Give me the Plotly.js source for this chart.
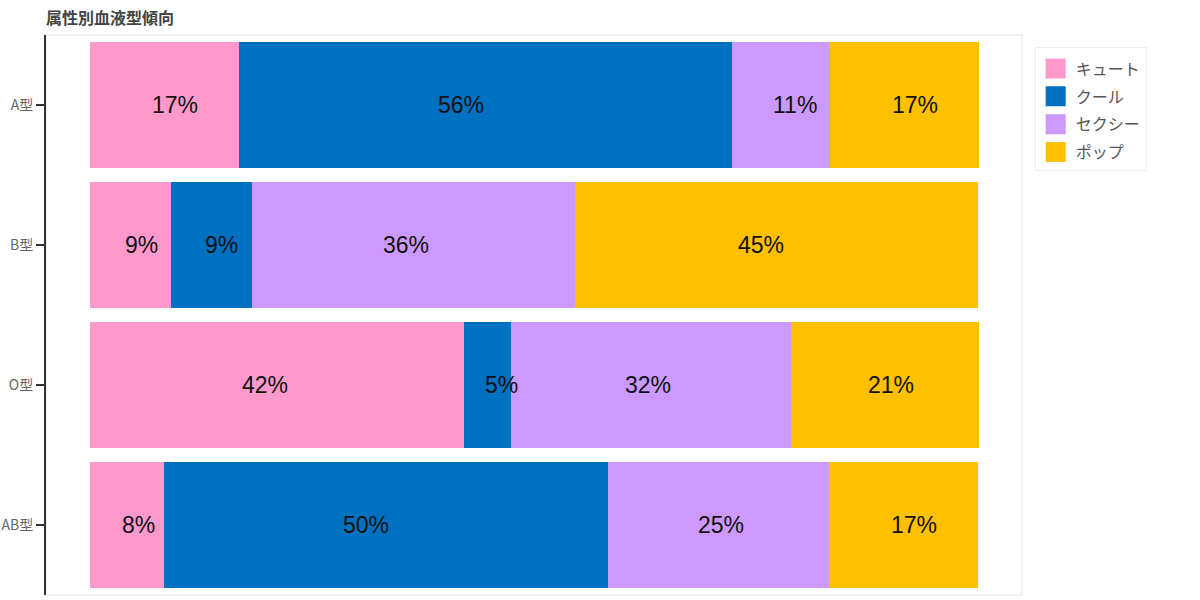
<!DOCTYPE html>
<html>
<head>
<meta charset="utf-8">
<script src="https://cdn.plot.ly/plotly-3.0.1.min.js"></script>
<style>html,body{margin:0;padding:0;background:#fff;}#chart{width:1200px;height:600px;}</style>
</head>
<body>
<div id="chart"></div>
<script>
const bloodTypes = ['A型', 'B型', 'O型', 'AB型'];
const seriesNames = ['キュート', 'クール', 'セクシー', 'ポップ'];
const cute  = [16.7, 9.1, 42.1, 8.3];
const cool  = [55.6, 9.1, 5.3, 50.0];
const sexy  = [11.1, 36.4, 31.6, 25.0];
const pop   = [16.7, 45.4, 21.1, 16.7];
const colors = ['#FF99CC', '#0070C0', '#CC99FF', '#FFC000'];

const NUMFONT = 'Liberation Sans, Arial, sans-serif';
const JPFONT = '"Noto Sans CJK JP", sans-serif';
const values = [cute, cool, sexy, pop];

const traces = values.map((v, i) => ({
  type: 'bar',
  orientation: 'h',
  name: seriesNames[i],
  y: bloodTypes,
  x: v,
  marker: {color: colors[i]},
  showlegend: false,
  hoverinfo: 'skip'
}));

// legend-only entries (larger square swatches)
values.forEach((v, i) => {
  traces.push({
    type: 'scatter', mode: 'markers', name: seriesNames[i],
    x: [null], y: [null], legendgroup: 'g' + i,
    marker: {symbol: 'square', size: 16, color: colors[i], line: {color: colors[i], width: 4}},
    hoverinfo: 'skip'
  });
});

// value labels: left edge at 40% of each segment
const annotations = [];
bloodTypes.forEach((bt, j) => {
  let base = 0;
  values.forEach((v) => {
    annotations.push({
      x: base + 0.4 * v[j], y: bt, xref: 'x', yref: 'y',
      text: Math.round(v[j]) + '%', showarrow: false,
      xanchor: 'left', yanchor: 'middle',
      font: {size: 23, color: '#111', family: NUMFONT}
    });
    base += v[j];
  });
});

const layout = {
  width: 1200, height: 600,
  margin: {l: 46, r: 178, t: 35, b: 5},
  barmode: 'stack',
  bargap: 0.1,
  paper_bgcolor: '#fff', plot_bgcolor: '#fff',
  font: {family: NUMFONT, color: '#555'},
  title: {text: '<b>属性別血液型傾向</b>', x: 46/1200, xanchor: 'left', y: 1 - 18/600, yanchor: 'middle',
          font: {size: 16, color: '#444', family: JPFONT}},
  xaxis: {range: [-5, 105], showticklabels: false, showgrid: false, zeroline: false, showline: false, ticks: ''},
  yaxis: {autorange: 'reversed', showline: true, linecolor: '#333', linewidth: 2, ticks: 'outside', ticklen: 8,
          tickcolor: '#333', tickwidth: 1.5, showgrid: false, zeroline: false,
          tickfont: {size: 14, color: '#666', family: JPFONT}},
  legend: {x: 1.013, y: 0.979, xanchor: 'left', yanchor: 'top', bordercolor: '#eee', borderwidth: 1,
           font: {size: 16, color: '#555', family: JPFONT}, traceorder: 'grouped', tracegroupgap: 4,
           itemsizing: 'trimmed', title: {text: ' ', font: {size: 3}}},
  annotations: annotations,
  shapes: [{type: 'rect', xref: 'paper', yref: 'paper', x0: 0, x1: 1, y0: 0, y1: 1,
            line: {color: '#eee', width: 1.5}, layer: 'below'}],
  showlegend: true
};

Plotly.newPlot('chart', traces, layout, {displayModeBar: false, staticPlot: true});
</script>
</body>
</html>
